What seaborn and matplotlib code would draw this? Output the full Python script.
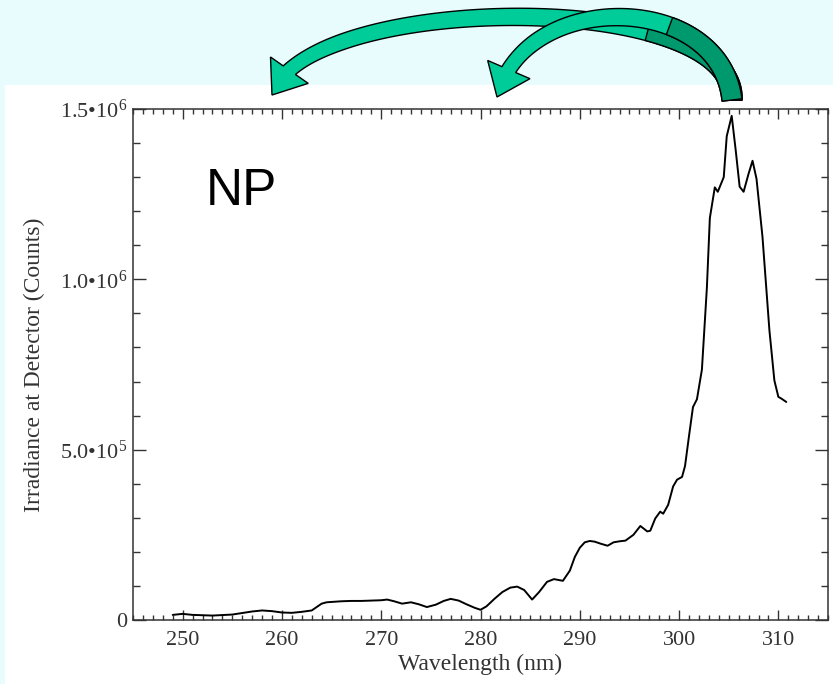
import matplotlib
matplotlib.use("Agg")
import numpy as np
import matplotlib.pyplot as plt
import seaborn as sns
import pandas as pd
from matplotlib.ticker import MultipleLocator, FixedLocator
from matplotlib.patches import Polygon, Rectangle

# spectrum
wavelength = [249, 250, 251, 253, 255, 257, 258, 259, 260, 261, 262, 263, 263.5, 264,
              264.5, 265, 266, 267, 268, 269, 270, 270.6, 271.3, 272.1, 273, 273.8,
              274.6, 275.5, 276.3, 277, 277.8, 278.6, 279.4, 280, 280.6, 281.4, 282.2,
              283, 283.7, 284.4, 285.2, 285.9, 286.7, 287.4, 288.3, 289, 289.5, 290,
              290.5, 291, 291.5, 292.1, 292.8, 293.4, 294, 294.6, 295.4, 296.1, 296.8,
              297.1, 297.6, 298.1, 298.4, 298.9, 299.4, 299.8, 300.3, 300.6, 301.0,
              301.4, 301.8, 302.3, 302.8, 303.1, 303.6, 303.9, 304.5, 304.8, 305.3,
              305.7, 306.1, 306.5, 307.0, 307.4, 307.8, 308.4, 309.1, 309.6, 310.0,
              310.3, 310.8]
counts = [15000, 18000, 15000, 13000, 16000, 25000, 28000, 26000, 22000, 21000, 24000,
          28000, 38000, 48000, 52000, 53000, 55000, 56000, 56000, 57000, 58000, 60000,
          55000, 48000, 52000, 46000, 38000, 45000, 56000, 62000, 57000, 46000, 36000,
          30000, 40000, 62000, 82000, 95000, 98000, 88000, 60000, 82000, 112000, 120000,
          115000, 145000, 185000, 212000, 228000, 232000, 230000, 224000, 218000, 228000,
          231000, 233000, 250000, 276000, 260000, 262000, 298000, 318000, 312000, 338000,
          392000, 412000, 420000, 452000, 540000, 625000, 648000, 735000, 975000, 1180000,
          1270000, 1257000, 1300000, 1420000, 1480000, 1380000, 1272000, 1257000, 1310000,
          1348000, 1295000, 1125000, 850000, 703000, 655000, 650000, 640000]

x_ticks = [250, 260, 270, 280, 290, 300, 310]
y_ticks = [0, 5e5, 1e6, 1.5e6]
y_tick_labels = ["0", "5.0\u202210$^{5}$", "1.0\u202210$^{6}$", "1.5\u202210$^{6}$"]

df = pd.DataFrame({"wavelength": wavelength, "counts": counts})

sns.set_style("ticks")
plt.rcParams["font.family"] = ["Liberation Serif", "DejaVu Serif"]
plt.rcParams["mathtext.fontset"] = "custom"
plt.rcParams["mathtext.rm"] = "Liberation Serif"
plt.rcParams["mathtext.it"] = "Liberation Serif:italic"

bg = "#e8fcfe"
fig = plt.figure(figsize=(8.33, 6.84), dpi=100, facecolor=bg)
fig.patches.append(Rectangle((5 / 833, 0), 1, 1 - 85 / 684, transform=fig.transFigure,
                             facecolor="white", edgecolor="none", zorder=-10))

ax = fig.add_axes([133 / 833, 64 / 684, 695 / 833, 511 / 684])
ax.set_facecolor("white")
sns.lineplot(data=df, x="wavelength", y="counts", ax=ax, color="black", linewidth=1.4)

ax.set_xlim(245, 315)
ax.set_ylim(0, 1.5e6)
ax.xaxis.set_major_locator(FixedLocator(x_ticks))
ax.xaxis.set_minor_locator(MultipleLocator(1))
ax.yaxis.set_major_locator(FixedLocator(y_ticks))
ax.yaxis.set_minor_locator(MultipleLocator(1e5))
ax.set_yticklabels(y_tick_labels)

tc = "#333333"
ax.tick_params(axis="both", which="both", direction="in", top=True, right=True,
               colors=tc, width=1.0, labelsize=16, labelcolor=tc)
ax.tick_params(axis="x", which="major", length=7, pad=8)
ax.tick_params(axis="x", which="minor", length=3.5)
ax.tick_params(axis="y", which="major", length=9.5, pad=4)
ax.tick_params(axis="y", which="minor", length=5)
for s in ax.spines.values():
    s.set_color(tc)
    s.set_linewidth(1.1)

ax.set_xlabel("Wavelength (nm)", fontsize=17, color=tc, labelpad=3)
ax.set_ylabel("Irradiance at Detector (Counts)", fontsize=17, color=tc, labelpad=11)

ax.text(0.104, 0.812, "NP", transform=ax.transAxes, fontsize=37,
        family=["Liberation Sans", "DejaVu Sans"], color="black",
        ha="left", va="baseline")


# curved block arrows of the slide, built in pixel space (origin top-left)
def bez(p, t):
    t = t[:, None]
    return ((1 - t) ** 3) * p[0] + 3 * ((1 - t) ** 2) * t * p[1] + 3 * (1 - t) * t ** 2 * p[2] + t ** 3 * p[3]


def to_fig(pts):
    return np.column_stack([pts[:, 0] / 833, 1 - pts[:, 1] / 684])


def block_arrow(ctrl, w0=20, w1=15, head_w=46, head_len=30, split=0.45,
                light="#00cc99", dark="#00996e", z=5):
    p = np.array(ctrl, dtype=float)
    t = np.linspace(0, 1, 400)
    c = bez(p, t)
    dist = np.hypot(*(c - p[3]).T)
    th = t[np.argmin(np.abs(dist - head_len) + (t < 0.5) * 1e9)]
    ts = np.linspace(0, th, 200)
    cs = bez(p, ts)
    d = np.gradient(cs, axis=0)
    d /= np.hypot(d[:, 0], d[:, 1])[:, None]
    nrm = np.column_stack([-d[:, 1], d[:, 0]])
    base = cs[-1]
    ax_dir = (p[3] - base) / np.hypot(*(p[3] - base))
    n_end = np.array([-ax_dir[1], ax_dir[0]])
    # blend shaft normals toward the head normal near the end
    blend = np.clip((ts / th - 0.85) / 0.15, 0, 1)[:, None]
    nrm = nrm * (1 - blend) + n_end * blend
    nrm /= np.hypot(nrm[:, 0], nrm[:, 1])[:, None]
    w = (w0 + (w1 - w0) * ts / th)[:, None] / 2
    left, right = cs + nrm * w, cs - nrm * w
    head = [base + n_end * head_w / 2, p[3], base - n_end * head_w / 2]
    outline = np.vstack([left, head, right[::-1]])
    fig.add_artist(Polygon(to_fig(outline), closed=True, transform=fig.transFigure,
                           facecolor=light, edgecolor="black", linewidth=1.0, zorder=z))
    k = int(len(ts) * split)
    shade = np.vstack([left[:k], right[:k][::-1]])
    fig.add_artist(Polygon(to_fig(shade), closed=True, transform=fig.transFigure,
                           facecolor=dark, edgecolor="black", linewidth=1.0, zorder=z + 0.1))


block_arrow([(732, 100), (738, -12), (305, -8), (272, 95)], split=0.32, z=5)
block_arrow([(732, 100), (720, -8), (525, -12), (497, 97)], split=0.38, z=6)

fig.savefig("out.png", dpi=100, facecolor=bg)
